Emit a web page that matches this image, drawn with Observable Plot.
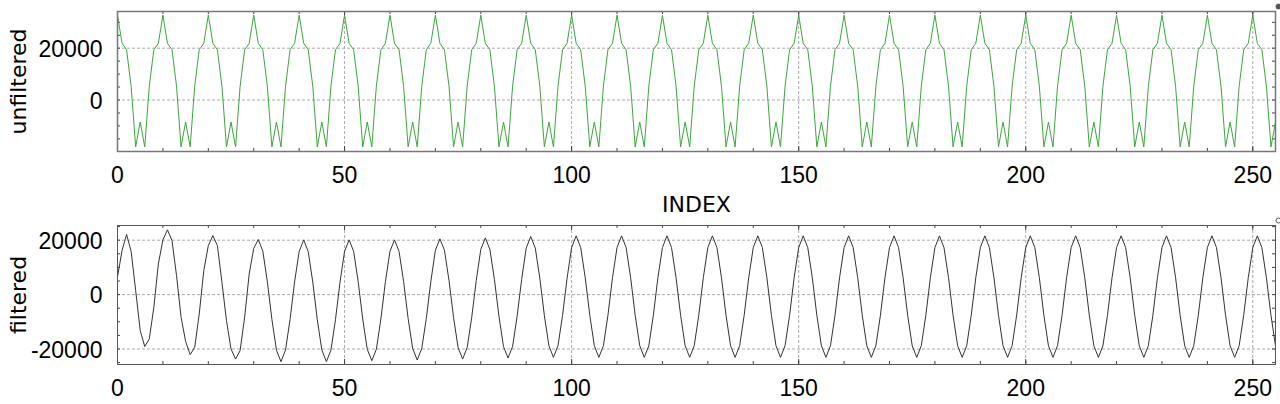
<!DOCTYPE html>
<html><head><meta charset="utf-8">
<script src="https://cdn.jsdelivr.net/npm/d3@7"></script>
<script src="https://cdn.jsdelivr.net/npm/@observablehq/plot@0.6"></script>
<style>
body{margin:0;background:#fff;}
#chart svg{display:block;}
</style></head><body><div id="chart"></div>
<script>
// ---- data ----
const unfiltered = [
32767,21900,19400,5300,-18100,-8500,-18100,5300,19400,21900,
32767,21900,19400,5300,-18100,-8500,-18100,5300,19400,21900,
32767,21900,19400,5300,-18100,-8500,-18100,5300,19400,21900,
32767,21900,19400,5300,-18100,-8500,-18100,5300,19400,21900,
32767,21900,19400,5300,-18100,-8500,-18100,5300,19400,21900,
32767,21900,19400,5300,-18100,-8500,-18100,5300,19400,21900,
32767,21900,19400,5300,-18100,-8500,-18100,5300,19400,21900,
32767,21900,19400,5300,-18100,-8500,-18100,5300,19400,21900,
32767,21900,19400,5300,-18100,-8500,-18100,5300,19400,21900,
32767,21900,19400,5300,-18100,-8500,-18100,5300,19400,21900,
32767,21900,19400,5300,-18100,-8500,-18100,5300,19400,21900,
32767,21900,19400,5300,-18100,-8500,-18100,5300,19400,21900,
32767,21900,19400,5300,-18100,-8500,-18100,5300,19400,21900,
32767,21900,19400,5300,-18100,-8500,-18100,5300,19400,21900,
32767,21900,19400,5300,-18100,-8500,-18100,5300,19400,21900,
32767,21900,19400,5300,-18100,-8500,-18100,5300,19400,21900,
32767,21900,19400,5300,-18100,-8500,-18100,5300,19400,21900,
32767,21900,19400,5300,-18100,-8500,-18100,5300,19400,21900,
32767,21900,19400,5300,-18100,-8500,-18100,5300,19400,21900,
32767,21900,19400,5300,-18100,-8500,-18100,5300,19400,21900,
32767,21900,19400,5300,-18100,-8500,-18100,5300,19400,21900,
32767,21900,19400,5300,-18100,-8500,-18100,5300,19400,21900,
32767,21900,19400,5300,-18100,-8500,-18100,5300,19400,21900,
32767,21900,19400,5300,-18100,-8500,-18100,5300,19400,21900,
32767,21900,19400,5300,-18100,-8500,-18100,5300,19400,21900,
32767,21900,19400,5300,-18100,-8500
];
const filtered = [
6400,16200,22100,15900,1500,-13200,-19100,-16300,-4700,11300,
20100,23800,19900,7000,-8300,-17200,-22100,-19400,-7100,8800,
18000,21700,18000,4500,-9600,-20000,-23700,-20600,-8300,7600,
17000,20250,16000,4700,-9100,-20400,-24660,-20400,-9100,4700,
15800,20100,15800,4600,-9200,-20400,-24660,-20400,-9200,4600,
15900,20100,15900,4800,-9000,-20100,-24300,-20100,-9000,4800,
15900,20100,15900,4800,-8800,-19800,-24050,-19800,-8800,4800,
16300,20500,16300,5200,-8400,-19500,-23700,-19500,-8400,5200,
16600,20850,16600,5600,-8000,-19100,-23300,-19100,-8000,5600,
17100,21350,17100,6000,-7700,-18800,-23070,-18800,-7700,6000,
17300,21600,17300,6200,-7600,-18800,-23070,-18800,-7600,6200,
17300,21600,17300,6200,-7600,-18800,-23070,-18800,-7600,6200,
17300,21600,17300,6200,-7600,-18800,-23070,-18800,-7600,6200,
17300,21600,17300,6200,-7600,-18800,-23070,-18800,-7600,6200,
17300,21600,17300,6200,-7600,-18800,-23070,-18800,-7600,6200,
17300,21600,17300,6200,-7600,-18800,-23070,-18800,-7600,6200,
17300,21600,17300,6200,-7600,-18800,-23070,-18800,-7600,6200,
17300,21600,17300,6200,-7600,-18800,-23070,-18800,-7600,6200,
17300,21600,17300,6200,-7600,-18800,-23070,-18800,-7600,6200,
17300,21600,17300,6200,-7600,-18800,-23070,-18800,-7600,6200,
17300,21600,17300,6200,-7600,-18800,-23070,-18800,-7600,6200,
17300,21600,17300,6200,-7600,-18800,-23070,-18800,-7600,6200,
17300,21600,17300,6200,-7600,-18800,-23070,-18800,-7600,6200,
17300,21600,17300,6200,-7600,-18800,-23070,-18800,-7600,6200,
17300,21600,17300,6200,-7600,-18800,-23070,-18800,-7600,6200,
17300,21600,17300,6200,-7600,-18800
];
const xMajorTicks = [0, 50, 100, 150, 200, 250];
const xMinorTicks = [0,10,20,30,40,50,60,70,80,90,100,110,120,130,140,150,160,170,180,190,200,210,220,230,240,250];
const yTicksUnfiltered = [0, 20000];
const yMinorUnfiltered = [-15000,-10000,-5000,0,5000,10000,15000,20000,25000,30000];
const yTicksFiltered = [-20000, 0, 20000];
const yMinorFiltered = [-25000,-20000,-15000,-10000,-5000,0,5000,10000,15000,20000,25000];
const xLabel = "INDEX";
const yLabelTop = "unfiltered";
const yLabelBottom = "filtered";

// ---- drawing ----
const W = 1280, ML = 117, MR = 5;
const FW = W - ML - MR;
const gridStyle = {stroke: "#aaa", strokeOpacity: 1, strokeDasharray: "3,2", strokeWidth: 1};

function panel(o) {
  const data = o.values.map((v, i) => ({i, v}));
  const FH = o.height - o.marginTop - o.marginBottom;
  const marks = [
    Plot.gridX(xMajorTicks.filter(t => t > 0), gridStyle),
    Plot.gridY(o.yTicks, gridStyle),
    Plot.tickX(xMinorTicks, {x: d => d, insetTop: FH - 3, stroke: "#444"}),
    Plot.tickX(xMinorTicks, {x: d => d, insetBottom: FH - 3, stroke: "#444"}),
    Plot.tickX(xMajorTicks, {x: d => d, insetTop: FH - 5, stroke: "#444"}),
    Plot.tickX(xMajorTicks, {x: d => d, insetBottom: FH - 5, stroke: "#444"}),
    Plot.tickY(o.yMinor, {y: d => d, insetRight: FW - 3, stroke: "#444"}),
    Plot.tickY(o.yMinor, {y: d => d, insetLeft: FW - 3, stroke: "#444"}),
    Plot.line(data, {x: "i", y: "v", stroke: o.color, strokeWidth: 1}),
    Plot.frame({stroke: o.frameStroke, strokeWidth: o.frameWidth}),
    Plot.axisX(xMajorTicks, {tickSize: 0, tickPadding: 15, tickFormat: d => String(d), fontSize: 23, fontFamily: "Liberation Sans", label: null}),
    Plot.axisY(o.yTicks, {tickSize: 0, tickPadding: 15, tickFormat: d => String(d), fontSize: 23, fontFamily: "Liberation Sans", label: null, dy: 1.5}),
    Plot.text([o.ylabel], {text: d => d, frameAnchor: "left", dx: -99, rotate: -90, textAnchor: "middle", lineAnchor: "middle", fontSize: 22, fontFamily: "DejaVu Sans", fill: "#000"}),
    Plot.dot([{}], {frameAnchor: "top-right", dx: 3, dy: -5, r: 2.5, fill: o.dotFill, stroke: "#555", strokeWidth: 1})
  ];
  if (o.xlabel) {
    marks.push(Plot.text([o.xlabel], {text: d => d, frameAnchor: "bottom", dy: 53, textAnchor: "middle", lineAnchor: "middle", fontSize: 22, fontFamily: "DejaVu Sans", fill: "#000"}));
  }
  return Plot.plot({
    width: W, height: o.height,
    marginLeft: ML, marginRight: MR, marginTop: o.marginTop, marginBottom: o.marginBottom,
    style: {background: "white", color: "#000", fontFamily: "Liberation Sans", overflow: "visible"},
    x: {domain: [0, 255]},
    y: {domain: o.yDomain},
    marks
  });
}

const chart = document.getElementById("chart");
chart.append(panel({
  values: unfiltered, color: "#3aa83a", yDomain: [-19880, 34170],
  yTicks: yTicksUnfiltered, yMinor: yMinorUnfiltered, ylabel: yLabelTop, xlabel: xLabel,
  height: 220, marginTop: 11, marginBottom: 69, frameStroke: "#777", frameWidth: 1.5, dotFill: "#555"
}));
chart.append(panel({
  values: filtered, color: "#333", yDomain: [-25700, 25400],
  yTicks: yTicksFiltered, yMinor: yMinorFiltered, ylabel: yLabelBottom, xlabel: null,
  height: 184, marginTop: 5, marginBottom: 40, frameStroke: "#555", frameWidth: 1, dotFill: "white"
}));
</script>
</body></html>
